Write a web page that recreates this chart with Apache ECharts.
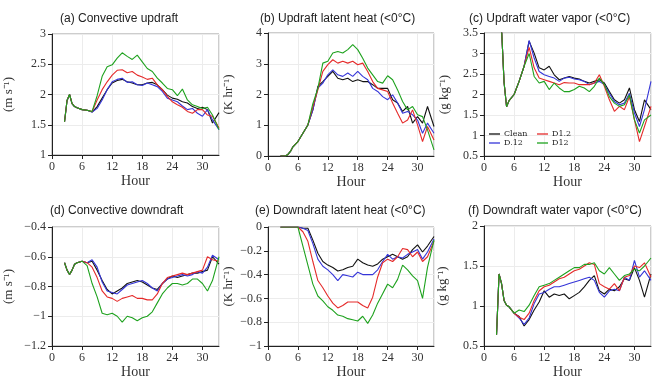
<!DOCTYPE html>
<html>
<head>
<meta charset="utf-8">
<script src="https://cdn.jsdelivr.net/npm/echarts@6/dist/echarts.min.js"></script>
<style>html,body{margin:0;padding:0;background:#fff;}#c{width:656px;height:380px;}</style>
</head>
<body>
<div id="c"></div>
<script>
// Shared time axis (hours)
var hours = [2.5,3,3.5,4,4.5,5,6,7,8,9,10,11,12,13,14,15,16,17,18,19,20,21,22,23,24,25,26,27,28,29,30,31,32,33.3];
var seriesNames = ['Clean','D.12','D1.2','D12'];
var xTicks = [0,6,12,18,24,30];

// (a) Convective updraft (m s-1)
var aClean = [1.55,1.9,2.0,1.85,1.8,1.78,1.75,1.74,1.71,1.8,1.94,2.08,2.19,2.23,2.25,2.21,2.19,2.16,2.16,2.19,2.2,2.16,2.08,1.99,1.94,1.92,1.88,1.86,1.8,1.77,1.79,1.75,1.53,1.7];
var aD012  = [1.55,1.9,2.0,1.85,1.8,1.78,1.75,1.74,1.71,1.77,1.91,2.08,2.21,2.25,2.27,2.2,2.21,2.16,2.15,2.19,2.16,2.13,2.05,1.94,1.91,1.88,1.81,1.75,1.77,1.69,1.64,1.75,1.58,1.42];
var aD12   = [1.55,1.9,2.0,1.85,1.8,1.78,1.75,1.74,1.72,1.91,2.08,2.21,2.32,2.4,2.41,2.36,2.38,2.32,2.29,2.25,2.27,2.16,2.08,1.97,1.88,1.83,1.79,1.72,1.69,1.75,1.75,1.66,1.64,1.45];
var aD120  = [1.55,1.9,2.0,1.85,1.8,1.78,1.75,1.74,1.72,1.98,2.3,2.46,2.49,2.6,2.69,2.63,2.58,2.65,2.54,2.43,2.38,2.27,2.19,2.1,2.08,1.98,2.09,1.91,1.83,1.8,1.77,1.79,1.66,1.42];

// (b) Updraft latent heat (K hr-1)
var bClean = [0,0,0,0.05,0.15,0.3,0.47,0.74,1.01,1.5,2.26,2.42,2.59,2.75,2.53,2.48,2.53,2.42,2.48,2.42,2.42,2.32,2.2,2.2,2.2,1.83,1.72,1.45,1.61,1.07,1.28,1.07,1.61,0.96];
var bD012  = [0,0,0,0.05,0.15,0.3,0.47,0.74,1.01,1.5,2.21,2.37,2.64,2.8,2.64,2.59,2.7,2.59,2.75,2.59,2.48,2.2,2.1,1.93,1.83,1.99,1.72,1.39,1.45,1.34,1.17,0.74,1.07,0.74];
var bD12   = [0,0,0,0.05,0.15,0.3,0.47,0.74,1.01,1.6,2.15,2.75,2.97,3.13,3.02,3.08,3.02,3.08,2.97,3.02,2.75,2.42,2.2,2.15,2.1,1.72,1.39,1.07,1.17,1.5,1.01,0.47,0.96,0.52];
var bD120  = [0,0,0,0.05,0.15,0.3,0.47,0.74,1.01,1.7,2.2,3.02,3.08,3.35,3.4,3.35,3.46,3.62,3.46,3.18,2.86,2.64,2.42,2.37,2.61,2.48,2.15,1.77,1.5,1.61,1.34,1.28,0.85,0.2];

// (c) Updraft water vapor (g kg-1)
var cClean = [4.6,4.2,3.6,2.3,1.7,1.85,2.0,2.32,2.69,3.3,3.01,2.65,2.6,2.69,2.48,2.36,2.4,2.44,2.4,2.38,2.32,2.28,2.32,2.36,2.28,2.07,1.87,1.79,1.87,2.16,1.63,1.34,1.87,1.63];
var cD012  = [4.6,4.2,3.6,2.3,1.7,1.85,2.0,2.32,2.69,3.32,2.89,2.56,2.48,2.44,2.4,2.32,2.4,2.42,2.38,2.36,2.32,2.24,2.28,2.32,2.24,2.03,1.83,1.75,1.79,2.03,1.55,1.22,1.63,2.32];
var cD12   = [4.6,4.2,3.6,2.3,1.7,1.85,2.0,2.32,2.69,3.15,2.65,2.4,2.36,2.32,2.28,2.24,2.29,2.28,2.28,2.24,2.24,2.24,2.28,2.48,2.2,1.87,1.59,1.71,1.63,1.95,1.38,0.85,1.22,1.71];
var cD120  = [4.6,4.2,3.6,2.3,1.7,1.85,2.0,2.32,2.69,3.0,2.44,2.28,2.32,2.12,2.28,2.16,2.07,2.07,2.12,2.2,2.16,2.07,2.2,2.4,2.24,1.95,1.79,1.71,1.75,1.99,1.38,1.06,1.38,1.5];

// (d) Convective downdraft (m s-1)
var dClean = [-0.64,-0.69,-0.72,-0.69,-0.65,-0.64,-0.63,-0.64,-0.63,-0.69,-0.76,-0.82,-0.85,-0.83,-0.81,-0.78,-0.77,-0.76,-0.77,-0.79,-0.81,-0.82,-0.78,-0.75,-0.73,-0.74,-0.73,-0.72,-0.71,-0.71,-0.70,-0.69,-0.6,-0.65];
var dD012  = [-0.64,-0.69,-0.72,-0.69,-0.65,-0.64,-0.63,-0.64,-0.62,-0.67,-0.77,-0.83,-0.84,-0.85,-0.82,-0.79,-0.78,-0.77,-0.76,-0.78,-0.81,-0.83,-0.78,-0.75,-0.74,-0.73,-0.72,-0.73,-0.72,-0.70,-0.71,-0.67,-0.59,-0.62];
var dD12   = [-0.64,-0.69,-0.72,-0.69,-0.65,-0.64,-0.63,-0.64,-0.67,-0.74,-0.83,-0.87,-0.88,-0.9,-0.88,-0.87,-0.86,-0.88,-0.88,-0.89,-0.89,-0.85,-0.78,-0.74,-0.73,-0.72,-0.71,-0.72,-0.71,-0.70,-0.69,-0.6,-0.62,-0.63];
var dD120  = [-0.64,-0.69,-0.72,-0.69,-0.65,-0.64,-0.63,-0.66,-0.78,-0.87,-0.98,-0.99,-0.98,-1.0,-1.04,-1.0,-1.01,-1.03,-1.01,-1.0,-0.97,-0.91,-0.85,-0.81,-0.78,-0.78,-0.79,-0.78,-0.75,-0.75,-0.78,-0.83,-0.76,-0.6];

// (e) Downdraft latent heat (K hr-1)
var eClean = [0,0,0,0,0,0,0,-0.01,-0.01,-0.11,-0.22,-0.29,-0.32,-0.34,-0.37,-0.36,-0.34,-0.33,-0.27,-0.3,-0.32,-0.33,-0.31,-0.27,-0.25,-0.23,-0.25,-0.27,-0.25,-0.19,-0.15,-0.21,-0.16,-0.08];
var eD012  = [0,0,0,0,0,0,0,-0.01,-0.03,-0.14,-0.27,-0.33,-0.36,-0.4,-0.45,-0.4,-0.41,-0.42,-0.38,-0.4,-0.4,-0.4,-0.36,-0.29,-0.23,-0.27,-0.25,-0.26,-0.23,-0.21,-0.19,-0.27,-0.21,-0.1];
var eD12   = [0,0,0,0,0,0,0,-0.04,-0.12,-0.29,-0.45,-0.51,-0.58,-0.64,-0.68,-0.66,-0.63,-0.63,-0.63,-0.66,-0.68,-0.59,-0.42,-0.3,-0.27,-0.29,-0.25,-0.18,-0.19,-0.25,-0.21,-0.29,-0.25,-0.12];
var eD120  = [0,0,0,0,0,0,0,-0.16,-0.32,-0.48,-0.58,-0.62,-0.67,-0.7,-0.74,-0.75,-0.77,-0.78,-0.79,-0.75,-0.81,-0.74,-0.64,-0.56,-0.48,-0.51,-0.44,-0.32,-0.36,-0.41,-0.45,-0.6,-0.34,-0.11];

// (f) Downdraft water vapor (g kg-1)
var fClean = [0.64,1.4,1.28,1.07,1.01,0.99,0.91,0.87,0.75,0.83,0.95,1.05,1.19,1.11,1.15,1.13,1.15,1.09,1.13,1.17,1.24,1.32,1.38,1.19,1.15,1.21,1.19,1.24,1.34,1.32,1.48,1.32,1.11,1.4];
var fD012  = [0.64,1.4,1.28,1.07,1.01,0.99,0.91,0.85,0.77,0.85,1.03,1.15,1.17,1.21,1.24,1.24,1.26,1.28,1.3,1.32,1.34,1.36,1.32,1.17,1.11,1.19,1.21,1.19,1.36,1.32,1.57,1.36,1.44,1.32];
var fD12   = [0.64,1.4,1.28,1.07,1.01,0.99,0.91,0.86,0.83,0.91,1.07,1.19,1.24,1.26,1.3,1.34,1.36,1.4,1.44,1.46,1.5,1.54,1.52,1.28,1.24,1.21,1.28,1.19,1.36,1.38,1.5,1.48,1.54,1.36];
var fD120  = [0.64,1.4,1.28,1.07,1.01,0.99,0.91,0.95,0.93,1.01,1.13,1.24,1.26,1.28,1.32,1.36,1.4,1.44,1.48,1.48,1.52,1.52,1.54,1.44,1.4,1.48,1.4,1.32,1.38,1.4,1.46,1.44,1.5,1.6];

var colors = {'Clean':'#111111','D.12':'#3535d8','D1.2':'#e52a2a','D12':'#1ea21e'};

var panels = [
  {title:'(a) Convective updraft', tx:60, ty:13, unit:'(m s\u207B\u00B9)', gap:37,
   grid:{left:52,top:34,width:167,height:121}, ymin:1, ymax:3, yint:0.5, data:[aClean,aD012,aD12,aD120]},
  {title:'(b) Updraft latent heat (<0\u00B0C)', tx:260, ty:13, unit:'(K hr\u207B\u00B9)', gap:33,
   grid:{left:268,top:33,width:166,height:123}, ymin:0, ymax:4, yint:1, data:[bClean,bD012,bD12,bD120]},
  {title:'(c) Updraft water vapor (<0\u00B0C)', tx:469, ty:13, unit:'(g kg\u207B\u00B9)', gap:33,
   grid:{left:484,top:33,width:167,height:123}, ymin:0.5, ymax:3.5, yint:0.5, data:[cClean,cD012,cD12,cD120]},
  {title:'(d) Convective downdraft', tx:50, ty:205, unit:'(m s\u207B\u00B9)', gap:37,
   grid:{left:52,top:227,width:167,height:121}, ymin:-1.2, ymax:-0.4, yint:0.2, data:[dClean,dD012,dD12,dD120]},
  {title:'(e) Downdraft latent heat (<0\u00B0C)', tx:255, ty:205, unit:'(K hr\u207B\u00B9)', gap:33,
   grid:{left:268,top:227,width:166,height:121}, ymin:-1, ymax:0, yint:0.2, data:[eClean,eD012,eD12,eD120]},
  {title:'(f) Downdraft water vapor (<0\u00B0C)', tx:468, ty:205, unit:'(g kg\u207B\u00B9)', gap:35,
   grid:{left:484,top:226,width:167,height:122}, ymin:0.5, ymax:2, yint:0.5, data:[fClean,fD012,fD12,fD120]}
];

var serif = 'Liberation Serif';
function legendItems(names){
  return names.map(function(n){ return {name:n, icon:'rect', itemStyle:{color:colors[n]}}; });
}
var legendBase = {orient:'vertical', itemGap:1, itemWidth:11, itemHeight:1.3, padding:0, selectedMode:false,
  textStyle:{fontFamily:'DejaVu Serif', fontSize:8, color:'#222', padding:[0,0,0,-1]}};
var option = {animation:false, backgroundColor:'#fff', title:[], grid:[], xAxis:[], yAxis:[], series:[],
  legend:[
    Object.assign({left:489, top:130, data:legendItems(['Clean','D.12'])}, legendBase),
    Object.assign({left:537, top:130, data:legendItems(['D1.2','D12'])}, legendBase)
  ]};

function fmt(v){ var s = String(Math.round(v*100)/100); return s.replace('-', '\u2212'); }

panels.forEach(function(p, i){
  option.title.push({text:p.title, left:p.tx, top:p.ty, padding:0,
    textStyle:{fontFamily:'Liberation Sans', fontSize:12, fontWeight:'normal', color:'#222'}});
  option.grid.push(Object.assign({show:true, borderColor:'#9a9a9a', borderWidth:1, containLabel:false}, p.grid));
  option.xAxis.push({type:'value', gridIndex:i, min:0, max:33.3, interval:6,
    name:'Hour', nameLocation:'middle', nameGap:19,
    nameTextStyle:{fontFamily:serif, fontSize:14, color:'#333'},
    axisLine:{show:true, onZero:false, lineStyle:{color:'#222', width:1}},
    axisTick:{show:true, inside:false, length:4, lineStyle:{color:'#222'}},
    axisLabel:{show:true, margin:6, fontFamily:serif, fontSize:12, color:'#333', showMaxLabel:false,
      formatter:function(v){ return xTicks.indexOf(v) >= 0 ? String(v) : ''; }},
    splitLine:{show:true, lineStyle:{color:'#ececec', width:1}}
  });
  option.yAxis.push({type:'value', gridIndex:i, min:p.ymin, max:p.ymax, interval:p.yint,
    name:p.unit, nameLocation:'middle', nameGap:p.gap, nameRotate:90,
    nameTextStyle:{fontFamily:serif, fontSize:13, color:'#333'},
    axisLine:{show:true, onZero:false, lineStyle:{color:'#222', width:1}},
    axisTick:{show:true, inside:false, length:4, lineStyle:{color:'#222'}},
    axisLabel:{show:true, margin:6, fontFamily:serif, fontSize:12, color:'#333', formatter:fmt},
    splitLine:{show:true, lineStyle:{color:'#ececec', width:1}}
  });
  p.data.forEach(function(vals, k){
    var name = seriesNames[k];
    option.series.push({type:'line', name:name, xAxisIndex:i, yAxisIndex:i, symbol:'none', clip:true,
      color:colors[name], lineStyle:{color:colors[name], width:1.1},
      data: hours.map(function(h, j){ return [h, vals[j]]; })});
  });
});

var chart = echarts.init(document.getElementById('c'), null, {renderer:'canvas'});
chart.setOption(option);
</script>
</body>
</html>
